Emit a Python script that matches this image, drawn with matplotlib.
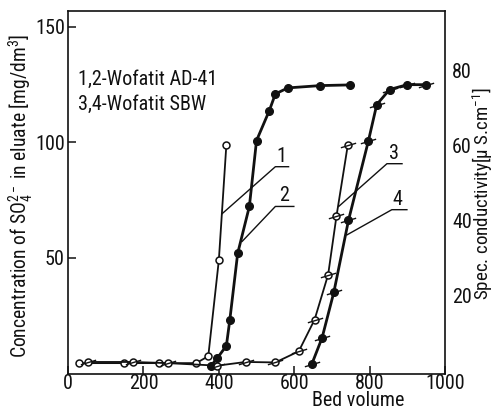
import matplotlib
matplotlib.use("Agg")
import matplotlib.pyplot as plt
from matplotlib import font_manager
from matplotlib.path import Path

# curve 1: Wofatit AD-41, SO4 concentration (open circles)
bv_1 = [29, 149, 240, 340, 372, 400, 420]
conc_1 = [4.5, 4.5, 4.5, 4.5, 7.5, 49, 99]

# curve 2: Wofatit AD-41, conductivity (filled circles)
bv_2 = [378, 396, 420, 429, 450, 481, 500, 534, 550, 583, 669, 749]
cond_2 = [3.1, 6.7, 12, 23, 52, 72.3, 100.8, 113.8, 121, 123.6, 124.6, 124.9]

# curve 3: Wofatit SBW, SO4 concentration (open circles, flagged)
bv_3 = [52, 171, 265, 396, 471, 550, 612, 654, 690, 712, 742]
conc_3 = [5, 5, 4.5, 3.4, 5, 4.8, 9.6, 23.3, 42.8, 68, 98.7]

# curve 4: Wofatit SBW, conductivity (filled circles, flagged)
bv_4 = [647, 674, 705, 744, 797, 819, 853, 900, 950]
cond_4 = [4.2, 15.5, 35.1, 66.3, 100.8, 116.4, 122.9, 125, 125]

# number labels with leader lines: (start on curve, elbow, end of underline, label x)
leaders = {
    "1": [(409, 69.2), (550, 89.5), (585, 89.5), 567],
    "2": [(462, 57.2), (550, 72.3), (599, 72.3), 573],
    "3": [(718, 72.3), (846, 90.8), (886, 90.8), 864],
    "4": [(740, 60.0), (859, 70.9), (899, 70.9), 874],
}

x_ticks = [0, 200, 400, 600, 800, 1000]
left_ticks = [50, 100, 150]
right_ticks = [20, 40, 60, 80]


def pick_font():
    # the scan uses a narrow DIN-like face, take a condensed one if installed
    for fam in ["Liberation Sans Narrow", "Roboto Condensed", "Noto Sans", "DejaVu Sans", "Open Sans"]:
        try:
            path = font_manager.findfont(font_manager.FontProperties(family=fam, stretch="condensed"),
                                         fallback_to_default=False)
        except ValueError:
            continue
        low = path.lower()
        if "narrow" in low or "condensed" in low:
            return fam, True
    return "DejaVu Sans", False


fam, narrow = pick_font()
fs = 14.5 if narrow else 11
plt.rcParams.update({
    "font.family": [fam, "DejaVu Sans"],
    "font.stretch": "condensed" if narrow else "normal",
    "font.size": fs,
    "mathtext.fontset": "custom",
    "mathtext.rm": fam,
    "mathtext.it": fam,
    "mathtext.bf": fam,
})

ink = "#111111"
flag = Path([(-1.0, -0.3), (1.0, 0.3)])

fig = plt.figure(figsize=(4.94, 4.11), dpi=100)
ax = fig.add_axes([0.137, 0.0912, 0.7638, 0.8827])
ax.set_xlim(-1, 1000)
ax.set_ylim(0, 157)

ax.plot(bv_1, conc_1, color=ink, lw=1.3, marker="o", ms=5, mfc="white", mec=ink, mew=1.1, zorder=3)
ax.plot(bv_2, cond_2, color=ink, lw=2.0, marker="o", ms=5.5, mfc=ink, mec=ink, zorder=3)
ax.plot(bv_3, conc_3, color=ink, lw=1.3, marker="o", ms=5, mfc="white", mec=ink, mew=1.1, zorder=3)
ax.plot(bv_3, conc_3, ls="none", marker=flag, ms=11, mec=ink, mew=1.0, zorder=4)
ax.plot(bv_4, cond_4, color=ink, lw=2.0, marker="o", ms=5.5, mfc=ink, mec=ink, zorder=3)
ax.plot(bv_4, cond_4, ls="none", marker=flag, ms=11, mec=ink, mew=1.0, zorder=4)

for lab, (p0, p1, p2, tx) in leaders.items():
    ax.plot([p0[0], p1[0], p2[0]], [p0[1], p1[1], p2[1]], color=ink, lw=1.0, zorder=2)
    ax.text(tx, p1[1] + 0.5, lab, ha="center", va="bottom", color=ink)

ax.text(26, 127.2, "1,2-Wofatit AD-41", ha="left", va="center", color=ink)
ax.text(26, 116.4, "3,4-Wofatit SBW", ha="left", va="center", color=ink)

ax.set_xticks(x_ticks)
ax.set_yticks(left_ticks)
ax.tick_params(direction="in", length=6, width=1.1, colors=ink, pad=2)
ax.tick_params(axis="x", pad=0)
for s in ax.spines.values():
    s.set_linewidth(1.2)
    s.set_color(ink)

ax2 = ax.twinx()
ax2.set_ylim(-0.9, 95.8)
ax2.set_yticks(right_ticks)
ax2.tick_params(axis="y", length=0, pad=5, colors=ink)
for s in ax2.spines.values():
    s.set_visible(False)

fig.text(21 / 494, 1 - 196 / 411, r"Concentration of SO$_4^{2-}$ in eluate [mg/dm$^3$]",
         rotation=90, ha="center", va="center", color=ink, fontsize=fs - 0.4)
fig.text(483 / 494, 1 - 193 / 411, r"Spec. conductivity[μ S.cm$^{-1}$]",
         rotation=90, ha="center", va="center", color=ink, fontsize=fs - 0.8)
fig.text(358 / 494, 1 / 411, "Bed volume", ha="center", va="bottom", color=ink)

fig.savefig("out.png", dpi=100, facecolor="white")
